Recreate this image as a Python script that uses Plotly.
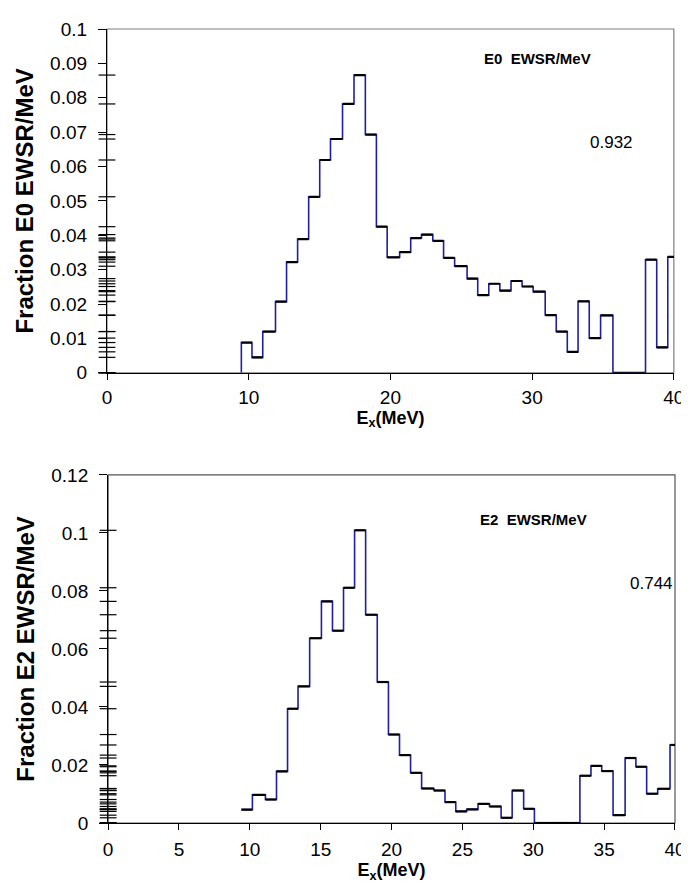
import plotly.graph_objects as go

# ---------------- data ----------------
# E0 strength distribution: bin edges (MeV) and fraction of EWSR per MeV
e0_edges = [9.48, 10.23, 10.99, 11.89, 12.67, 13.45, 14.23, 15.01, 15.77, 16.62,
            17.43, 18.23, 19.01, 19.77, 20.65, 21.43, 22.19, 22.99, 23.75, 24.53,
            25.41, 26.16, 26.94, 27.72, 28.51, 29.29, 30.07, 30.92, 31.70, 32.48,
            33.24, 34.03, 34.83, 35.70, 36.47, 37.23, 38.00, 38.79, 39.57, 40.36]
e0_values = [0.0088, 0.0045, 0.0120, 0.0207, 0.0322, 0.0389, 0.0512, 0.0619, 0.0680, 0.0782,
             0.0866, 0.0693, 0.0425, 0.0336, 0.0351, 0.0392, 0.0402, 0.0384, 0.0334, 0.0310,
             0.0274, 0.0226, 0.0259, 0.0239, 0.0267, 0.0251, 0.0236, 0.0168, 0.0120, 0.0061,
             0.0208, 0.0101, 0.0167, 0.0, 0.0, 0.0, 0.0329, 0.0074, 0.0337]

# E2 strength distribution
e2_edges = [9.40, 10.18, 11.10, 11.88, 12.66, 13.40, 14.22, 15.05, 15.83, 16.61,
            17.39, 18.17, 18.99, 19.78, 20.56, 21.34, 22.12, 22.99, 23.77, 24.53,
            25.30, 26.10, 26.91, 27.73, 28.51, 29.32, 30.08, 30.88, 31.68, 32.48,
            33.29, 34.07, 34.83, 35.63, 36.48, 37.24, 38.00, 38.78, 39.65, 40.45]
e2_values = [0.0046, 0.0097, 0.0081, 0.0178, 0.0394, 0.0471, 0.0637, 0.0764, 0.0663, 0.0811,
             0.1009, 0.0718, 0.0486, 0.0305, 0.0234, 0.0173, 0.0119, 0.0112, 0.0072, 0.0040,
             0.0047, 0.0066, 0.0057, 0.0018, 0.0112, 0.0049, 0.0, 0.0, 0.0, 0.0,
             0.0163, 0.0197, 0.0179, 0.0027, 0.0224, 0.0194, 0.0101, 0.0118, 0.0269]

e0_label = "E0  EWSR/MeV"
e0_total = "0.932"
e2_label = "E2  EWSR/MeV"
e2_total = "0.744"

e0_xticks = [0, 10, 20, 30, 40]
e2_xticks = [0, 5, 10, 15, 20, 25, 30, 35, 40]

# ---------------- styling ----------------
FONT = "Liberation Sans, Arial, sans-serif"
BLUE = "#1f1f9e"
BLACK = "#000000"


def step_path(edges, vals, start_from_zero):
    xs, ys = [], []
    if start_from_zero:
        xs.append(edges[0]); ys.append(0.0)
    for i, v in enumerate(vals):
        xs += [edges[i], edges[i + 1]]
        ys += [v, v]
    xs.append(edges[-1]); ys.append(0.0)
    return xs, ys


def flat_segments(edges, vals):
    xs, ys = [], []
    for i, v in enumerate(vals):
        xs += [edges[i], edges[i + 1], None]
        ys += [v, v, None]
    return xs, ys


fig = go.Figure()

panels = [
    (e0_edges, e0_values, True, "x", "y"),
    (e2_edges, e2_values, False, "x2", "y2"),
]
for edges, vals, sz, xa, ya in panels:
    sx, sy = step_path(edges, vals, sz)
    fig.add_trace(go.Scatter(x=sx, y=sy, mode="lines", xaxis=xa, yaxis=ya,
                             line=dict(color=BLUE, width=1.6), hoverinfo="skip",
                             showlegend=False))
    hx, hy = flat_segments(edges, vals)
    fig.add_trace(go.Scatter(x=hx, y=hy, mode="lines", xaxis=xa, yaxis=ya,
                             line=dict(color=BLACK, width=2.2), hoverinfo="skip",
                             showlegend=False))
    # small dashes on the y axis at each level
    fig.add_trace(go.Scatter(x=[0] * len(vals), y=vals, mode="markers", xaxis=xa, yaxis=ya,
                             marker=dict(symbol="line-ew", size=12, color=BLACK,
                                         line=dict(color=BLACK, width=1.2)),
                             cliponaxis=False, hoverinfo="skip", showlegend=False))

axis_common = dict(showgrid=False, zeroline=False, showline=True, linecolor="#000000",
                   linewidth=1.2, ticks="outside", tickcolor="#000000", tickwidth=1,
                   tickfont=dict(family=FONT, size=19, color="#000000"))

xtitle_font = dict(family=FONT, size=18)
ytitle_font = dict(family=FONT, size=24)

fig.update_layout(
    width=689, height=886,
    margin=dict(l=99, r=11, t=11, b=71),
    paper_bgcolor="white", plot_bgcolor="white",
    font=dict(family=FONT, color="#000000"),
    xaxis=dict(**axis_common, domain=[0, 0.998], range=[0, 40], tickvals=e0_xticks,
               ticklen=6, anchor="y", ticklabelstandoff=1,
               title=dict(text="<b>E<sub>x</sub>(MeV)</b>", standoff=1, font=xtitle_font)),
    yaxis=dict(**axis_common, domain=[0.567, 1.0], range=[0, 0.1], dtick=0.01,
               ticklen=8, anchor="x", ticklabelstandoff=7,
               title=dict(text="<b>Fraction E0 EWSR/MeV</b>", standoff=9, font=ytitle_font)),
    xaxis2=dict(**axis_common, domain=[0.002, 1.0], range=[0, 40], tickvals=e2_xticks,
                ticklen=6, anchor="y2", ticklabelstandoff=3,
                title=dict(text="<b>E<sub>x</sub>(MeV)</b>", standoff=1, font=xtitle_font)),
    yaxis2=dict(**axis_common, domain=[0.0, 0.4384], range=[0, 0.12], dtick=0.02,
                ticklen=8, anchor="x2", ticklabelstandoff=7,
                title=dict(text="<b>Fraction E2 EWSR/MeV</b>", standoff=9, font=ytitle_font)),
    shapes=[
        dict(type="rect", xref="x domain", yref="y domain", x0=0, x1=1, y0=0, y1=1,
             line=dict(color="#7f7f7f", width=1.2), layer="below"),
        dict(type="rect", xref="x2 domain", yref="y2 domain", x0=0, x1=1, y0=0, y1=1,
             line=dict(color="#555555", width=1.2), layer="below"),
    ],
    annotations=[
        dict(x=30.4, y=0.0915, xref="x", yref="y", text="<b>" + e0_label + "</b>",
             showarrow=False, font=dict(family=FONT, size=15)),
        dict(x=35.6, y=0.0670, xref="x", yref="y", text=e0_total,
             showarrow=False, font=dict(family=FONT, size=17)),
        dict(x=30.0, y=0.1045, xref="x2", yref="y2", text="<b>" + e2_label + "</b>",
             showarrow=False, font=dict(family=FONT, size=15)),
        dict(x=40.0, y=0.0825, xref="x2", yref="y2", text=e2_total, xanchor="right",
             showarrow=False, font=dict(family=FONT, size=17)),
    ],
)

fig.write_html("out.html")
